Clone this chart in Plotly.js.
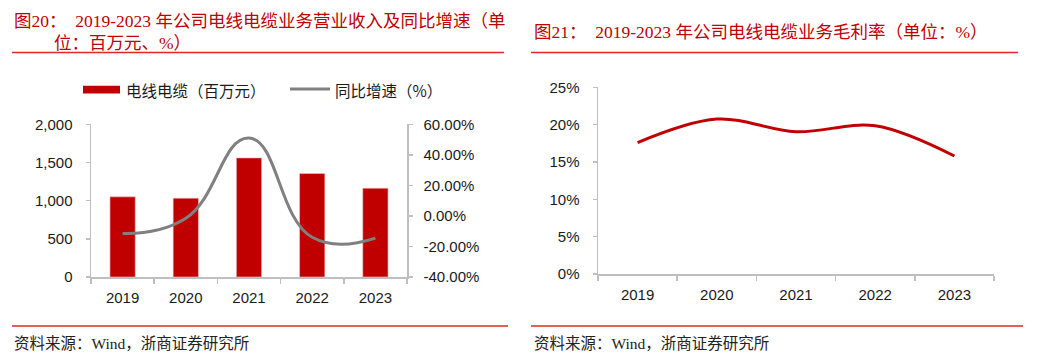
<!DOCTYPE html>
<html>
<head>
<meta charset="utf-8">
<script src="https://cdn.plot.ly/plotly-3.0.1.min.js"></script>
<style>html,body{margin:0;padding:0;background:#fff;}#chart{width:1048px;height:363px;}</style>
</head>
<body>
<div id="chart"></div>
<script>
// ---- data ----
const years = ['2019', '2020', '2021', '2022', '2023'];
const revenue = [1050, 1033, 1560, 1355, 1163];          // 电线电缆（百万元）
const yoyGrowth = [-11.5, -1.6, 51.0, -14.0, -14.5];      // 同比增速（%）
const grossMargin = [17.6, 20.75, 19.05, 19.85, 15.8];    // 毛利率（%）
const revenueTicks = [0, 500, 1000, 1500, 2000];
const growthTicks = [-40, -20, 0, 20, 40, 60];
const marginTicks = [0, 5, 10, 15, 20, 25];

const W = 1048, H = 363;
const px = x => x / W;
const py = y => 1 - y / H;

const redBar = '#C00000';
const grayLine = '#808080';
const axisGray = '#BFBFBF';
const titleRed = '#C00000';
const ruleRed = '#E02626';
const sans = 'Liberation Sans, Arial, sans-serif';
const serif = 'Liberation Serif, Noto Sans CJK SC, serif';
const cjk = 'Noto Sans CJK SC, sans-serif';

const tickFont = {family: sans, size: 15, color: '#1a1a1a'};

const revenueText = revenueTicks.map(v => v.toLocaleString('en-US'));
const growthText = growthTicks.map(v => v.toFixed(2) + '%');
const marginText = marginTicks.map(v => v + '%');

const traces = [
  {type: 'bar', x: years, y: revenue, xaxis: 'x', yaxis: 'y', name: '电线电缆（百万元）',
   marker: {color: redBar, line: {color: '#f2c4c4', width: 0.6}}, width: 0.4, showlegend: false, hoverinfo: 'skip'},
  {type: 'scatter', mode: 'lines', x: years, y: yoyGrowth, xaxis: 'x', yaxis: 'y2', name: '同比增速（%）',
   line: {color: grayLine, width: 3, shape: 'spline', smoothing: 1.3}, showlegend: false, hoverinfo: 'skip'},
  {type: 'scatter', mode: 'lines', x: years, y: grossMargin, xaxis: 'x3', yaxis: 'y3', name: '毛利率',
   line: {color: redBar, width: 3, shape: 'spline', smoothing: 1.0}, showlegend: false, hoverinfo: 'skip'}
];

const xCommon = {
  type: 'category', range: [-0.5, 4.5], showline: true, linecolor: axisGray, linewidth: 1.5,
  ticks: 'outside', tickson: 'boundaries', ticklen: 5, tickcolor: axisGray, tickwidth: 1.5,
  showgrid: false, zeroline: false, tickfont: tickFont, ticklabelstandoff: 6, fixedrange: true
};
const yCommon = {
  showline: true, linecolor: axisGray, linewidth: 1.5, ticks: 'outside', ticklen: 4,
  tickcolor: axisGray, tickwidth: 1.5, showgrid: false, zeroline: false, tickfont: tickFont, fixedrange: true,
  tickmode: 'array'
};

const sp = '\u00a0';
const layout = {
  width: W, height: H, margin: {l: 0, r: 0, t: 0, b: 0},
  paper_bgcolor: '#fff', plot_bgcolor: 'rgba(0,0,0,0)', showlegend: false,
  xaxis: Object.assign({}, xCommon, {domain: [px(91), px(407)], anchor: 'y'}),
  yaxis: Object.assign({}, yCommon, {domain: [py(277), py(124.3)], range: [0, 2000],
    tickvals: revenueTicks, ticktext: revenueText, anchor: 'x', ticklabelstandoff: 10}),
  yaxis2: Object.assign({}, yCommon, {domain: [py(277), py(124.3)], range: [-40, 60],
    tickvals: growthTicks, ticktext: growthText, overlaying: 'y', side: 'right',
    anchor: 'x', ticklabelstandoff: 8}),
  xaxis3: Object.assign({}, xCommon, {domain: [px(598), px(994)], anchor: 'y3'}),
  yaxis3: Object.assign({}, yCommon, {domain: [py(274), py(87.3)], range: [0, 25],
    tickvals: marginTicks, ticktext: marginText, anchor: 'x3', ticklabelstandoff: 10}),
  shapes: [
    {type: 'line', xref: 'paper', yref: 'paper', x0: px(12), x1: px(504), y0: py(52.5), y1: py(52.5), line: {color: ruleRed, width: 1.5}},
    {type: 'line', xref: 'paper', yref: 'paper', x0: px(531), x1: px(1018), y0: py(52.5), y1: py(52.5), line: {color: ruleRed, width: 1.5}},
    {type: 'line', xref: 'paper', yref: 'paper', x0: px(12), x1: px(508), y0: py(326), y1: py(326), line: {color: ruleRed, width: 1.5}},
    {type: 'line', xref: 'paper', yref: 'paper', x0: px(531), x1: px(1023), y0: py(326), y1: py(326), line: {color: ruleRed, width: 1.5}},
    {type: 'rect', xref: 'paper', yref: 'paper', x0: px(83), x1: px(120), y0: py(93.5), y1: py(85.7), fillcolor: redBar, line: {width: 0}},
    {type: 'line', xref: 'paper', yref: 'paper', x0: px(290), x1: px(330), y0: py(89), y1: py(89), line: {color: grayLine, width: 3}}
  ],
  annotations: [
    {xref: 'paper', yref: 'paper', x: px(12), y: py(21.5), xanchor: 'left', yanchor: 'middle', showarrow: false,
     text: '图20：' + sp + sp + '2019-2023 年公司电线电缆业务营业收入及同比增速（单', font: {family: serif, size: 17.5, color: titleRed}},
    {xref: 'paper', yref: 'paper', x: px(52), y: py(42.5), xanchor: 'left', yanchor: 'middle', showarrow: false,
     text: '位：百万元、%）', font: {family: serif, size: 17.5, color: titleRed}},
    {xref: 'paper', yref: 'paper', x: px(532), y: py(31.5), xanchor: 'left', yanchor: 'middle', showarrow: false,
     text: '图21：' + sp + sp + '2019-2023 年公司电线电缆业务毛利率（单位：%）', font: {family: serif, size: 17.5, color: titleRed}},
    {xref: 'paper', yref: 'paper', x: px(124), y: py(89.5), xanchor: 'left', yanchor: 'middle', showarrow: false,
     text: '电线电缆（百万元）', font: {family: cjk, size: 15.5, color: '#1a1a1a'}},
    {xref: 'paper', yref: 'paper', x: px(333), y: py(89.5), xanchor: 'left', yanchor: 'middle', showarrow: false,
     text: '同比增速（%）', font: {family: cjk, size: 15.5, color: '#1a1a1a'}},
    {xref: 'paper', yref: 'paper', x: px(12), y: py(343), xanchor: 'left', yanchor: 'middle', showarrow: false,
     text: '资料来源：Wind，浙商证券研究所', font: {family: serif, size: 15.5, color: '#222'}},
    {xref: 'paper', yref: 'paper', x: px(532), y: py(343), xanchor: 'left', yanchor: 'middle', showarrow: false,
     text: '资料来源：Wind，浙商证券研究所', font: {family: serif, size: 15.5, color: '#222'}}
  ]
};

Plotly.newPlot('chart', traces, layout, {staticPlot: true, displayModeBar: false});
</script>
</body>
</html>
